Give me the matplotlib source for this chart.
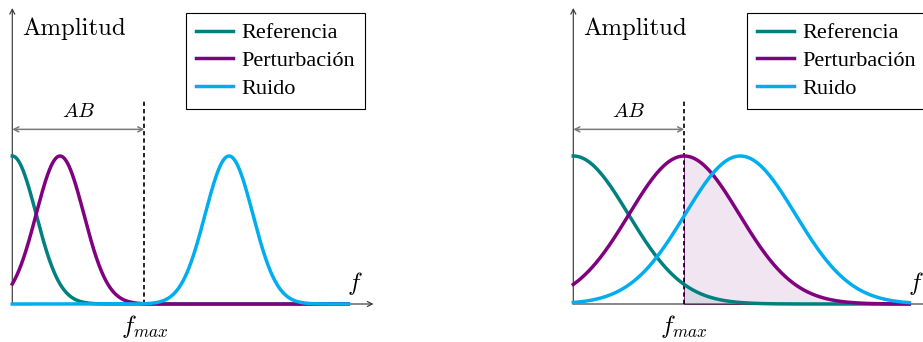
import numpy as np
import matplotlib
matplotlib.use("Agg")
import matplotlib.pyplot as plt
from matplotlib.lines import Line2D

plt.rcParams["mathtext.fontset"] = "cm"
plt.rcParams["axes.unicode_minus"] = False
plt.rcParams["font.family"] = ["Liberation Serif", "DejaVu Serif"]

# Series shown in both panels
series_names = ["Referencia", "Perturbación", "Ruido"]
series_colors = ["#008080", "#800080", "#00AEEF"]

# Narrow-band spectra (left panel)
narrow_centers = [0.0, 1.42, 6.45]
narrow_widths = [0.71, 0.71, 0.71]
narrow_fmax = 3.93

# Wide-band spectra (right panel)
wide_centers = [0.0, 3.30, 4.97]
wide_widths = [1.64, 1.64, 1.64]
wide_fmax = 3.30

f_end = 10.0        # frequency range plotted
x_axis_end = 10.75  # length of the f axis
y_axis_end = 2.0    # length of the amplitude axis
dash_top = 1.378
ab_level = 1.18

W, H = 923, 342
SX, SY = 33.6, 148.0     # pixels per unit on x and y
BASE = 38.0              # baseline height in pixels

fig = plt.figure(figsize=(W / 100, H / 100), dpi=100)


def gauss(x, c, s):
    return np.exp(-(x - c) ** 2 / (2 * s ** 2))


def panel(origin_px, centers, widths, fmax, shade):
    ax = fig.add_axes([(origin_px - 40) / W, 0, 440 / W, 1])
    ax.set_xlim(-40 / SX, 400 / SX)
    ax.set_ylim(-BASE / SY, (H - BASE) / SY)
    ax.axis("off")

    x = np.linspace(0, f_end, 800)
    ys = [gauss(x, c, s) for c, s in zip(centers, widths)]

    if shade:
        m = x >= fmax
        ax.fill_between(x[m], 0, ys[0][m], color=series_colors[0],
                        alpha=0.1, lw=0, zorder=1)
        ax.fill_between(x[m], 0, ys[1][m], facecolor=series_colors[1],
                        alpha=0.1, lw=0, zorder=1)
        ax.plot(x[m], np.zeros(m.sum()), color=series_colors[1], lw=0.6,
                zorder=1.5)
        ax.plot([fmax, fmax], [0, ys[1][m][0]], color=series_colors[1],
                lw=0.6, zorder=1.5)

    # axes
    arrow = dict(arrowstyle="->,head_length=0.35,head_width=0.18",
                 color="#3a3a3a", lw=0.85, shrinkA=0, shrinkB=0)
    ax.annotate("", xy=(x_axis_end, 0), xytext=(0, 0), arrowprops=arrow,
                zorder=2)
    ax.annotate("", xy=(0, y_axis_end), xytext=(0, 0), arrowprops=arrow,
                zorder=2)

    # cutoff frequency and bandwidth
    ax.plot([fmax, fmax], [0, dash_top], color="black", lw=1.2,
            dashes=(2.6, 1.8), zorder=2.5)
    ax.annotate("", xy=(fmax, ab_level), xytext=(0, ab_level),
                arrowprops=dict(arrowstyle="<->,head_length=0.35,head_width=0.18",
                                color="#7a7a7a", lw=1.1, shrinkA=0, shrinkB=0),
                zorder=2)

    for y, col in zip(ys, series_colors):
        ax.plot(x, y, color=col, lw=2.5, zorder=3)

    ax.text(fmax / 2, 1.295, r"$AB$", ha="center", va="center", fontsize=15)
    ax.text(0.3, 1.86, "Amplitud", family="cmr10", fontsize=17.8,
            ha="left", va="center")
    ax.text(10.2, 0.14, r"$f$", ha="center", va="center", fontsize=17.8)
    ax.text(fmax, -0.155, r"$f_{max}$", ha="center", va="center",
            fontsize=17.8)

    handles = [Line2D([], [], color=c, lw=2.5) for c in series_colors]
    leg = ax.legend(handles, series_names, loc="upper left",
                    bbox_to_anchor=(5.18, 1.966), bbox_transform=ax.transData,
                    prop={"size": 16},
                    frameon=True, fancybox=False, framealpha=1,
                    edgecolor="black", borderaxespad=0, handlelength=1.67,
                    handletextpad=0.36, borderpad=0.44, labelspacing=0.33)
    leg.get_frame().set_linewidth(0.8)
    return ax


panel(12.3, narrow_centers, narrow_widths, narrow_fmax, shade=False)
panel(573.3, wide_centers, wide_widths, wide_fmax, shade=True)

fig.savefig("out.png", dpi=100)
